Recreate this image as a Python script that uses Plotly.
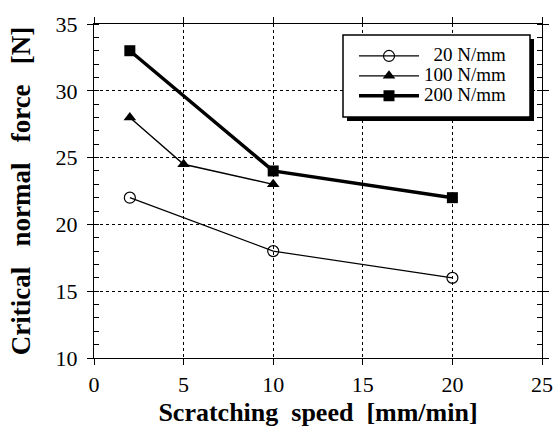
import plotly.graph_objects as go

# data
speed_20 = [2, 10, 20]
force_20 = [22, 18, 16]
speed_100 = [2, 5, 10]
force_100 = [28, 24.5, 23]
speed_200 = [2, 10, 20]
force_200 = [33, 24, 22]
names = ["  20 N/mm", "100 N/mm", "200 N/mm"]

FONT = "Liberation Serif, Times New Roman, DejaVu Serif, serif"

def leg_name(s):
    return '<span style="font-size:19px">' + s + '</span>'

fig = go.Figure()
fig.add_trace(go.Scatter(x=speed_20, y=force_20, name=leg_name(names[0]), mode="lines+markers",
                         line=dict(color="black", width=1.2),
                         marker=dict(symbol="circle-open", size=11, color="black", line=dict(width=1.2))))
fig.add_trace(go.Scatter(x=speed_100, y=force_100, name=leg_name(names[1]), mode="lines+markers",
                         line=dict(color="black", width=1.4),
                         marker=dict(symbol="triangle-up", size=11, color="black")))
fig.add_trace(go.Scatter(x=speed_200, y=force_200, name=leg_name(names[2]), mode="lines+markers",
                         line=dict(color="black", width=3.5),
                         marker=dict(symbol="square", size=11, color="black")))

L, R, T, B = 94, 13, 24, 70
W, H = 555, 428
pw, ph = W - L - R, H - T - B

def px_x(p):
    return (p - L) / pw

def px_y(p):
    return (H - B - p) / ph

# legend frame with drop shadow (pixels: left, top, right, bottom)
lx0, ly0, lx1, ly1 = 343, 35, 530, 117
sh = 4
fig.add_shape(type="rect", xref="paper", yref="paper",
              x0=px_x(lx0 + sh), x1=px_x(lx1 + sh), y0=px_y(ly1 + sh), y1=px_y(ly0 + sh),
              fillcolor="black", line=dict(width=0), layer="above")
fig.add_shape(type="rect", xref="paper", yref="paper",
              x0=px_x(lx0), x1=px_x(lx1), y0=px_y(ly1), y1=px_y(ly0),
              fillcolor="white", line=dict(color="black", width=1.5), layer="above")

axis_common = dict(showline=True, linecolor="black", linewidth=1.3, mirror="ticks",
                   ticks="outside", ticklen=6, tickcolor="black", tickwidth=1,
                   showgrid=True, gridcolor="black", griddash="dot", gridwidth=1,
                   zeroline=False, automargin=False,
                   tickfont=dict(family=FONT, size=22, color="black"))

fig.update_xaxes(range=[0, 25], tickmode="linear", tick0=0, dtick=5, **axis_common,
                 title=dict(text="<b>Scratching  speed  [mm/min]</b>",
                            font=dict(family=FONT, size=26, color="black"), standoff=7))
fig.update_yaxes(range=[10, 35], tickmode="linear", tick0=10, dtick=5, **axis_common,
                 ticklabelstandoff=5,
                 minor=dict(tickmode="linear", tick0=10, dtick=1, ticks="inside", ticklen=5,
                            tickcolor="black", showgrid=False),
                 title=dict(text="<b>Critical   normal   force   [N]</b>",
                            font=dict(family=FONT, size=27, color="black"), standoff=17))

fig.update_layout(
    width=W, height=H,
    margin=dict(l=L, r=R, t=T, b=B),
    paper_bgcolor="white", plot_bgcolor="white",
    font=dict(family=FONT, color="black"),
    legend=dict(x=px_x(354), xanchor="left", y=px_y(41), yanchor="top",
                bgcolor="rgba(0,0,0,0)", borderwidth=0,
                font=dict(family=FONT, size=13, color="black"),
                itemwidth=60, tracegroupgap=0),
    showlegend=True,
)

fig.write_html("out.html", config={"displayModeBar": False},
               post_script="document.body.style.margin='0';")
